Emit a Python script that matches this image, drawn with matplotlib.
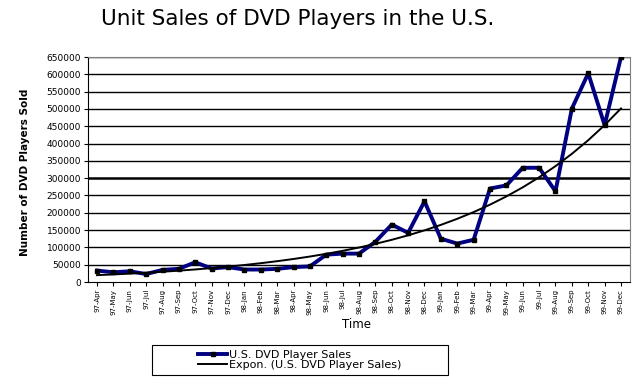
import numpy as np
import matplotlib
matplotlib.use("Agg")
import matplotlib.pyplot as plt
from matplotlib.patches import Rectangle

plt.rcParams['font.family'] = ['DejaVu Sans']

# monthly labels, Apr 1997 .. Dec 1999
months = ['Jan', 'Feb', 'Mar', 'Apr', 'May', 'Jun', 'Jul', 'Aug', 'Sep', 'Oct', 'Nov', 'Dec']
labels = [f'97-{m}' for m in months[3:]] + [f'98-{m}' for m in months] + [f'99-{m}' for m in months]

sales = [33000, 28000, 31000, 23000, 35000, 38000, 57000, 39000, 43000, 36000,
         36000, 38000, 43000, 45000, 79000, 82000, 82000, 116000, 166000, 142000,
         233000, 125000, 111000, 122000, 270000, 279000, 330000, 330000, 262000, 501000,
         603000, 453000, 650000]

x = np.arange(len(sales))

# Excel style exponential trendline fitted to the sales
b, a = np.polyfit(x, np.log(sales), 1)
trend = np.exp(a + b * x)

fig = plt.figure(figsize=(6.4, 3.86), dpi=100)
ax = fig.add_axes([88 / 640, 1 - 282 / 386, 542 / 640, 225 / 386])

for v in range(50000, 650001, 50000):
    ax.axhline(v, color='black', lw=1.8 if v == 300000 else 1.0, zorder=1)

ax.plot(x, sales, color='#000080', lw=2.8, marker='s', ms=3,
        mfc='black', mec='black', zorder=3, label='U.S. DVD Player Sales')
ax.plot(x, trend, color='black', lw=1.4, zorder=4,
        label='Expon. (U.S. DVD Player Sales)')

ax.set_xlim(-0.55, len(sales) - 0.45)
ax.set_ylim(0, 650000)
ax.set_yticks(range(0, 650001, 50000))
ax.set_yticklabels([str(v) for v in range(0, 650001, 50000)], fontsize=6.5)
ax.set_xticks(x)
ax.set_xticklabels(labels, rotation=90, fontsize=5)
ax.tick_params(axis='both', direction='out', length=3, width=0.8, pad=2)

for side in ['top', 'right']:
    ax.spines[side].set_color('#808080')
for side in ['left', 'bottom']:
    ax.spines[side].set_color('black')

fig.text(298 / 640, 1 - 19 / 386, 'Unit Sales of DVD Players in the U.S.',
         ha='center', va='center', fontsize=15.5)
fig.text(25 / 640, 1 - 172 / 386, 'Number of DVD Players Sold', rotation=90,
         ha='center', va='center', fontsize=7.5, fontweight='bold')
fig.text(356 / 640, 1 - 325 / 386, 'Time', ha='center', va='center', fontsize=8.5)

fig.patches.append(Rectangle((152 / 640, 1 - 375 / 386), 296 / 640, 30 / 386,
                             transform=fig.transFigure, fill=False,
                             edgecolor='black', lw=0.8))
fig.legend(loc='center', bbox_to_anchor=(300 / 640, 1 - 360 / 386), frameon=False,
           fontsize=8, handlelength=2.6, handletextpad=0.2, labelspacing=0.05,
           borderpad=0.2)

fig.savefig('out.png', dpi=100)
